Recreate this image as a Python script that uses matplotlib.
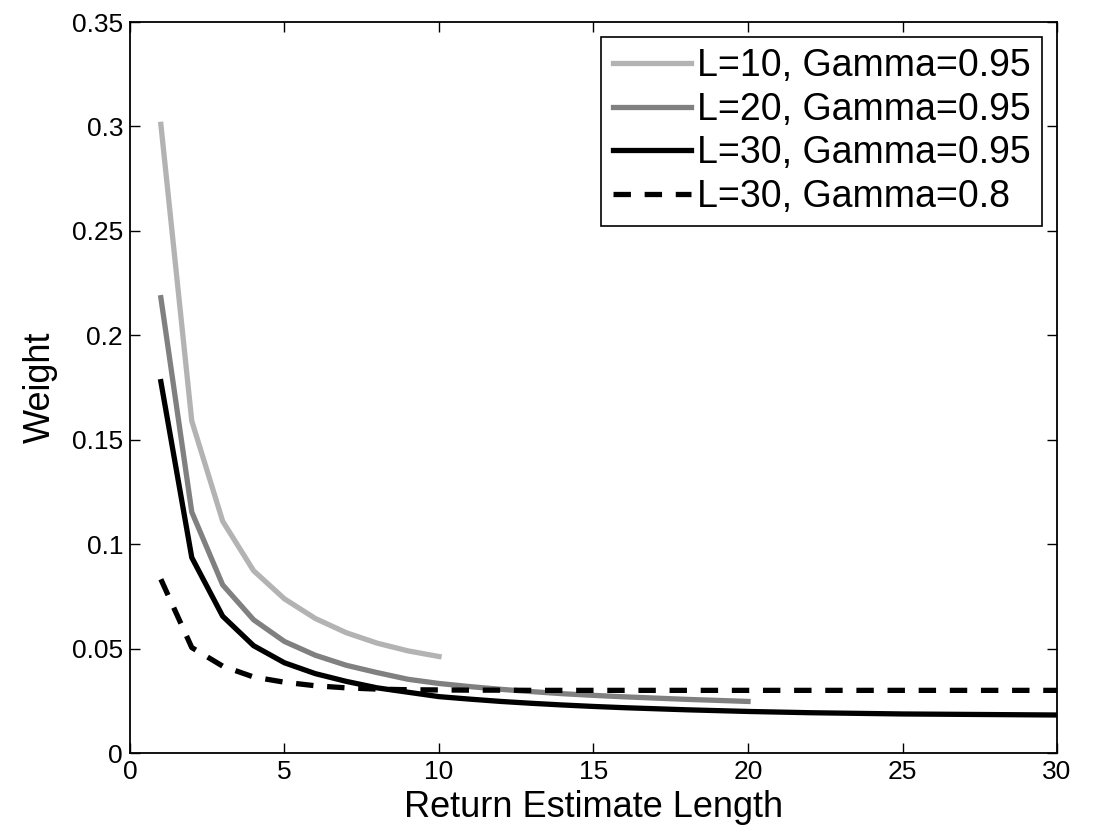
import numpy as np
import matplotlib
matplotlib.use("Agg")
import matplotlib.pyplot as plt

# Weights
w_l10_g95 = [0.301, 0.159, 0.111, 0.0873, 0.0738, 0.0644, 0.0576, 0.0526, 0.0489, 0.0462]
w_l20_g95 = [0.218, 0.1154, 0.0805, 0.0638, 0.0534, 0.0468, 0.0420, 0.0385, 0.0353, 0.0333,
             0.0318, 0.0305, 0.0294, 0.0284, 0.0276, 0.0269, 0.0263, 0.0257, 0.0252, 0.0247]
w_l30_g95 = [0.1778, 0.0936, 0.0655, 0.0514, 0.0432, 0.0380, 0.0343, 0.0312, 0.0291, 0.0270,
             0.0258, 0.0247, 0.0238, 0.0230, 0.0223, 0.0217, 0.0212, 0.0207, 0.0203, 0.0199,
             0.0196, 0.0193, 0.0191, 0.0189, 0.0187, 0.0186, 0.0185, 0.0184, 0.0183, 0.0182]
w_l30_g80 = [0.0832, 0.0505, 0.0416, 0.0364, 0.0339, 0.0322, 0.0312, 0.0306, 0.0303, 0.0302,
             0.0301, 0.0301, 0.0300, 0.0300, 0.0300, 0.0300, 0.0300, 0.0300, 0.0300, 0.0300,
             0.0300, 0.0300, 0.0300, 0.0300, 0.0300, 0.0300, 0.0300, 0.0300, 0.0300, 0.0300]

labels = ["L=10, Gamma=0.95", "L=20, Gamma=0.95", "L=30, Gamma=0.95", "L=30, Gamma=0.8"]

plt.rcParams["font.family"] = ["Liberation Sans", "DejaVu Sans"]

fig = plt.figure(figsize=(10.94, 8.34), dpi=100)
ax = fig.add_axes([0.1188, 0.0971, 0.8474, 0.8765])

series = [w_l10_g95, w_l20_g95, w_l30_g95, w_l30_g80]
colors = ["#b3b3b3", "#808080", "#000000", "#000000"]
styles = ["-", "-", "-", (0, (3.3, 2.6))]
for w, lab, c, ls in zip(series, labels, colors, styles):
    x = np.arange(1, len(w) + 1)
    ax.plot(x, w, color=c, linestyle=ls, linewidth=3.8, label=lab)

ax.set_xlim(0, 30)
ax.set_ylim(0, 0.35)
ax.set_xticks(np.arange(0, 31, 5))
ax.set_yticks(np.arange(0, 0.351, 0.05))
ax.set_yticklabels(["0", "0.05", "0.1", "0.15", "0.2", "0.25", "0.3", "0.35"])
ax.tick_params(direction="in", top=True, right=True, labelsize=19, length=7, width=1, pad=5)
for s in ax.spines.values():
    s.set_linewidth(1.3)

ax.set_xlabel("Return Estimate Length", fontsize=26, labelpad=4)
ax.set_ylabel("Weight", fontsize=26, labelpad=10)

leg = ax.legend(loc="upper right", fontsize=27, frameon=True, fancybox=False,
                edgecolor="black", framealpha=1, handlelength=2.1, handletextpad=0.15,
                borderpad=0.3, labelspacing=0.2, borderaxespad=0.4)
leg.get_frame().set_linewidth(1.2)

fig.savefig("out.png", dpi=100)
plt.close(fig)
